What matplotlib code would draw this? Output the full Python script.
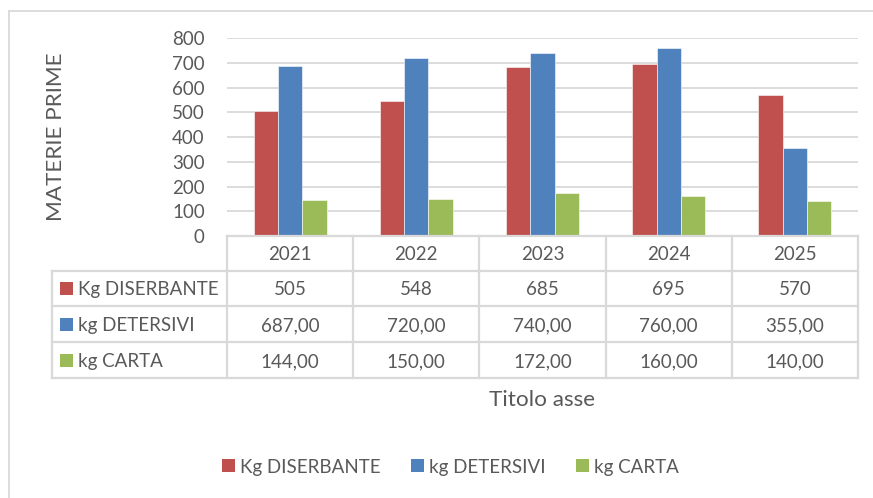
import matplotlib
matplotlib.use("Agg")
import matplotlib.pyplot as plt
import numpy as np
from matplotlib.lines import Line2D
from matplotlib.patches import Rectangle

years = ["2021", "2022", "2023", "2024", "2025"]
series_names = ["Kg DISERBANTE", "kg DETERSIVI", "kg CARTA"]
diserbante = [505, 548, 685, 695, 570]
detersivi = [687.00, 720.00, 740.00, 760.00, 355.00]
carta = [144.00, 150.00, 172.00, 160.00, 140.00]
decimals = [0, 2, 2]
colors = ["#C0504D", "#4F81BD", "#9BBB59"]
yticks = [0, 100, 200, 300, 400, 500, 600, 700, 800]

TXT = "#595959"
LINE = "#D9D9D9"
FONT = "Lato"
FS = 13.5
FS_TITLE = 16.2

W, H = 873, 498
fig = plt.figure(figsize=(W / 100, H / 100), dpi=100)
plt.rcParams["font.family"] = [FONT, "DejaVu Sans"]


def fx(px):
    return px / W


def fy(py):
    return 1 - py / H


ax = fig.add_axes([fx(227), fy(236), fx(858) - fx(227), fy(38.3) - fy(236)])
values = [diserbante, detersivi, carta]
n = len(series_names)
bw = 1 / (n + 2.19)
x = np.arange(len(years))
for i, (vals, c) in enumerate(zip(values, colors)):
    ax.bar(x + (i - (n - 1) / 2) * bw, vals, width=bw, color=c, zorder=3,
           edgecolor="white", linewidth=0.4)
ax.set_xlim(-0.5, len(years) - 0.5)
ax.set_ylim(0, 800)
ax.set_yticks(yticks)
ax.set_yticklabels([str(t) for t in yticks], fontsize=FS, color=TXT)
ax.tick_params(axis="y", length=0, pad=16)
ax.set_xticks([])
ax.grid(axis="y", color=LINE, linewidth=1.3, zorder=0)
for s in ax.spines.values():
    s.set_visible(False)

# Outer chart border
fig.add_artist(Line2D([fx(9), fx(9)], [fy(11), 0], transform=fig.transFigure, color=LINE, lw=1.3))
fig.add_artist(Line2D([fx(9), 1], [fy(11), fy(11)], transform=fig.transFigure, color=LINE, lw=1.3))

# Data table
fig.canvas.draw()
to_fig = fig.transFigure.inverted()


def data_x_to_fig(xv):
    return to_fig.transform(ax.transData.transform((xv, 0)))[0]


col_edges = [data_x_to_fig(v - 0.5) for v in range(len(years) + 1)]
row_edges_px = [236, 270.5, 306, 342, 378]
row_edges = [fy(p) for p in row_edges_px]
left_edge = fx(52)

lw = 1.6
# horizontal lines
fig.add_artist(Line2D([col_edges[0], col_edges[-1]], [row_edges[0]] * 2,
                      transform=fig.transFigure, color=LINE, lw=lw))
for r in row_edges[1:]:
    fig.add_artist(Line2D([left_edge, col_edges[-1]], [r, r],
                          transform=fig.transFigure, color=LINE, lw=lw))
# vertical lines
fig.add_artist(Line2D([left_edge, left_edge], [row_edges[1], row_edges[-1]],
                      transform=fig.transFigure, color=LINE, lw=lw))
for cx in col_edges:
    fig.add_artist(Line2D([cx, cx], [row_edges[0], row_edges[-1]],
                          transform=fig.transFigure, color=LINE, lw=lw))

# header
for j, yr in enumerate(years):
    cx = (col_edges[j] + col_edges[j + 1]) / 2
    fig.text(cx, (row_edges[0] + row_edges[1]) / 2, yr, ha="center", va="center_baseline",
             fontsize=FS, color=TXT)

# rows
for i, (name, vals, c, d) in enumerate(zip(series_names, values, colors, decimals)):
    yc = (row_edges[i + 1] + row_edges[i + 2]) / 2
    fig.add_artist(Rectangle((fx(60), yc - 6.5 / H), 13 / W, 13 / H,
                             transform=fig.transFigure, color=c, lw=0))
    fig.text(fx(78), yc, name, ha="left", va="center_baseline", fontsize=FS, color=TXT)
    for j, v in enumerate(vals):
        cx = (col_edges[j] + col_edges[j + 1]) / 2
        s = f"{v:.{d}f}".replace(".", ",")
        fig.text(cx, yc, s, ha="center", va="center_baseline", fontsize=FS, color=TXT)

# axis titles
fig.text(fx(542), fy(397.5), "Titolo asse", ha="center", va="center_baseline",
         fontsize=FS_TITLE, color=TXT)
fig.text(fx(56), fy(136.5), "MATERIE PRIME", ha="center", va="center", rotation=90,
         fontsize=FS_TITLE, color=TXT)

# legend
leg_x = [222, 411, 576]
for lx, name, c in zip(leg_x, series_names, colors):
    fig.add_artist(Rectangle((fx(lx), fy(472)), 13 / W, 13 / H,
                             transform=fig.transFigure, color=c, lw=0))
    fig.text(fx(lx + 18), fy(465.5), name, ha="left", va="center_baseline", fontsize=FS, color=TXT)

fig.savefig("out.png", dpi=100, facecolor="white")
